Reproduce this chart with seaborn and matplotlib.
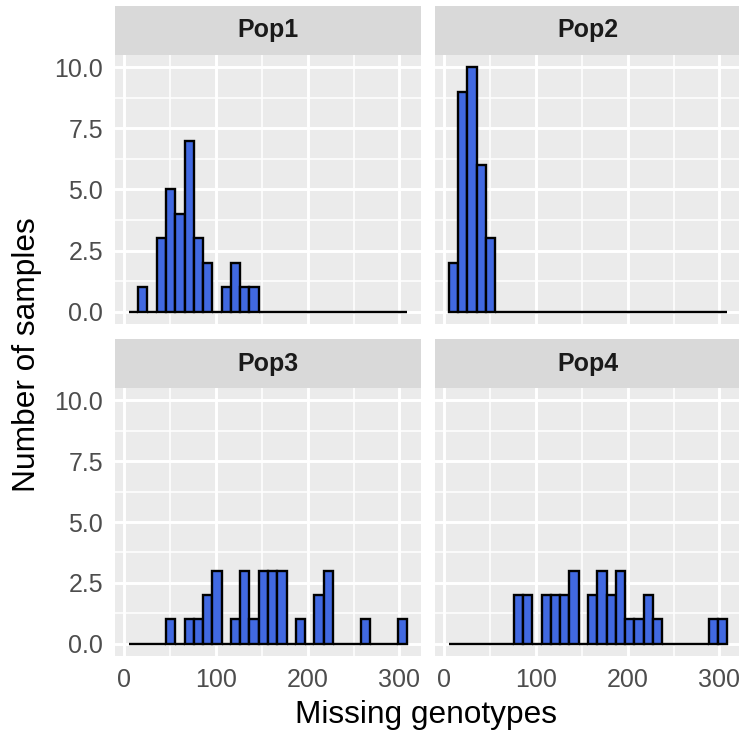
import numpy as np
import pandas as pd
import matplotlib
matplotlib.use("Agg")
import matplotlib.pyplot as plt
import seaborn as sns

# Missing-genotype histograms (30 bins) per population
bin_low = 5.5
bin_high = 308.3
n_bins = 30
populations = ["Pop1", "Pop2", "Pop3", "Pop4"]

pop1_counts = [0, 1, 0, 3, 5, 4, 7, 3, 2, 0, 1, 2, 1, 1, 0,
               0, 0, 0, 0, 0, 0, 0, 0, 0, 0, 0, 0, 0, 0, 0]
pop2_counts = [2, 9, 10, 6, 3, 0, 0, 0, 0, 0, 0, 0, 0, 0, 0,
               0, 0, 0, 0, 0, 0, 0, 0, 0, 0, 0, 0, 0, 0, 0]
pop3_counts = [0, 0, 0, 0, 1, 0, 1, 1, 2, 3, 0, 1, 3, 1, 3,
               3, 3, 0, 1, 0, 2, 3, 0, 0, 0, 1, 0, 0, 0, 1]
pop4_counts = [0, 0, 0, 0, 0, 0, 0, 2, 2, 0, 2, 2, 2, 3, 0,
               2, 3, 2, 3, 1, 1, 2, 1, 0, 0, 0, 0, 0, 1, 1]
all_counts = [pop1_counts, pop2_counts, pop3_counts, pop4_counts]

x_ticks = [0, 100, 200, 300]
y_ticks = [0.0, 2.5, 5.0, 7.5, 10.0]
x_title = "Missing genotypes"
y_title = "Number of samples"

sns.set_theme(style="darkgrid")
plt.rcParams["font.family"] = ["Liberation Sans", "DejaVu Sans"]

W, H = 739, 733
fig = plt.figure(figsize=(W / 100, H / 100), dpi=100)
fig.patch.set_facecolor("white")

edges = np.linspace(bin_low, bin_high, n_bins + 1)
centers = (edges[:-1] + edges[1:]) / 2
span = bin_high - bin_low
xlim = (bin_low - 0.05 * span, bin_high + 0.05 * span)
ylim = (-0.5, 10.5)

# panel boxes in pixels: (left, top, width, height), strip height above each
panel_boxes = [(115, 55, 306, 269), (435, 55, 306, 269),
               (115, 388, 306, 268), (435, 388, 306, 268)]
strip_h = 49


def frac(left, top, width, height):
    return [left / W, 1 - (top + height) / H, width / W, height / H]


for i, (name, counts) in enumerate(zip(populations, all_counts)):
    l, t, w, h = panel_boxes[i]
    ax = fig.add_axes(frac(l, t, w, h))
    ax.set_facecolor("#EBEBEB")
    df = pd.DataFrame({"missing": centers, "n": np.asarray(counts, float)})
    sns.histplot(data=df, x="missing", weights="n", bins=n_bins,
                 binrange=(bin_low, bin_high), ax=ax,
                 color="#4169E1", edgecolor="black", linewidth=1.7,
                 alpha=1.0, zorder=3)
    ax.set_xlim(*xlim)
    ax.set_ylim(*ylim)
    ax.set_xticks(x_ticks)
    ax.set_yticks(y_ticks)
    ax.set_xticks([50, 150, 250], minor=True)
    ax.set_yticks([1.25, 3.75, 6.25, 8.75], minor=True)
    ax.grid(which="major", color="white", linewidth=2.1, zorder=0)
    ax.grid(which="minor", color="white", linewidth=1.1, zorder=0)
    ax.set_axisbelow(True)
    for s in ax.spines.values():
        s.set_visible(False)
    ax.set_xlabel("")
    ax.set_ylabel("")
    ax.tick_params(which="minor", length=0)
    ax.tick_params(which="major", length=5, width=1.6, color="#333333",
                   labelcolor="#4D4D4D", labelsize=18, pad=3.5)
    if i % 2 == 0:
        ax.set_yticklabels([f"{v:.1f}" for v in y_ticks])
    else:
        ax.tick_params(axis="y", length=0, labelleft=False)
    if i >= 2:
        ax.set_xticklabels([str(v) for v in x_ticks])
    else:
        ax.tick_params(axis="x", length=0, labelbottom=False)

    # facet strip
    sax = fig.add_axes(frac(l, t - strip_h, w, strip_h))
    sax.set_facecolor("#D9D9D9")
    sax.set_xticks([])
    sax.set_yticks([])
    sax.grid(False)
    for s in sax.spines.values():
        s.set_visible(False)
    sax.text(0.5, 0.5, name, ha="center", va="center", fontsize=18,
             fontweight="bold", color="#1A1A1A", transform=sax.transAxes)

fig.text(426 / W, 1 - 723 / H, x_title, ha="center", va="baseline",
         fontsize=22.8, color="black")
fig.text(27 / W, 1 - 355 / H, y_title, ha="center", va="center",
         rotation=90, fontsize=22.8, color="black")

fig.savefig("out.png", dpi=100, facecolor="white")
